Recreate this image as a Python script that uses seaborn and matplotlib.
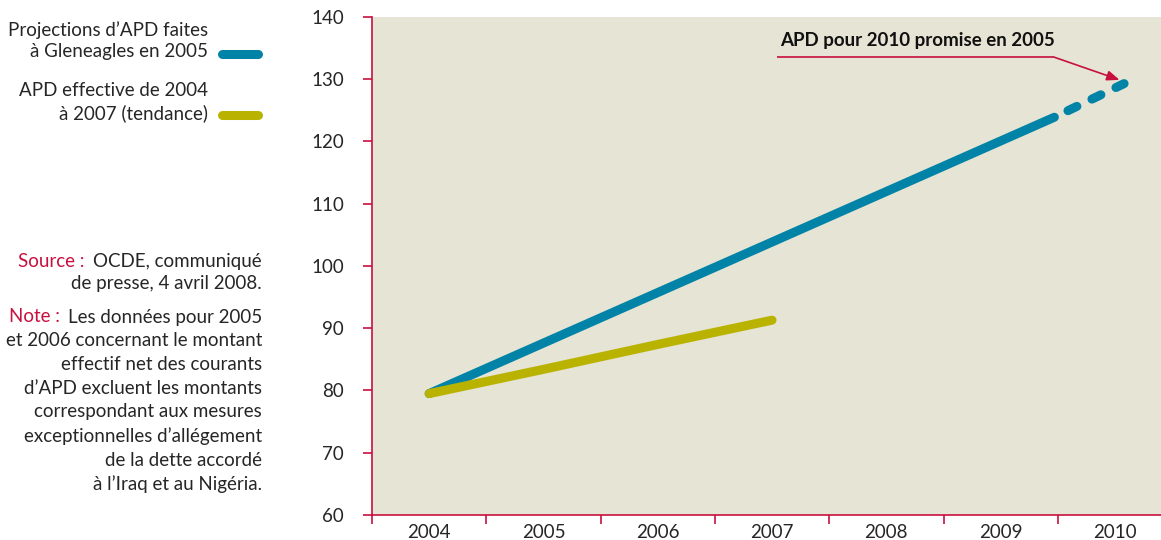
import matplotlib
matplotlib.use("Agg")
import matplotlib.pyplot as plt
import seaborn as sns
import pandas as pd
from matplotlib.lines import Line2D

# ---- data ----
years = ["2004", "2005", "2006", "2007", "2008", "2009", "2010"]
proj_pos = [0.0, 5.47]          # solid part of Gleneagles projection (position along year axis)
proj_val = [79.5, 123.9]
proj_dash_pos = [5.47, 6.08]    # dashed extrapolation up to the 2010 promise
proj_dash_val = [123.9, 129.3]
eff_pos = [0, 1, 2, 3]
eff_val = [79.5, 83.4, 87.4, 91.3]
yticks = [60, 70, 80, 90, 100, 110, 120, 130, 140]

BLUE = "#0083a7"
GREEN = "#b9b300"
RED = "#c8103e"
BG = "#e6e4d4"

sns.set_style("white")
plt.rcParams["font.family"] = ["Lato", "DejaVu Sans"]

fig = plt.figure(figsize=(11.61, 5.40), dpi=100)
ax = fig.add_axes([372 / 1161, 1 - 515 / 540, (1161 - 372) / 1161, (515 - 17) / 540])
ax.set_facecolor(BG)

lw = 6.5
sns.lineplot(data=pd.DataFrame({"x": proj_pos, "y": proj_val}), x="x", y="y", ax=ax,
             color=BLUE, lw=lw, solid_capstyle="round")
sns.lineplot(data=pd.DataFrame({"x": proj_dash_pos, "y": proj_dash_val}), x="x", y="y", ax=ax,
             color=BLUE, lw=lw, dash_capstyle="round", linestyle=(1.28, (1.1, 1.85)))
sns.lineplot(data=pd.DataFrame({"x": eff_pos, "y": eff_val}), x="x", y="y", ax=ax,
             color=GREEN, lw=lw, solid_capstyle="round")

ax.set_xlabel("")
ax.set_ylabel("")

for s in ["top", "right"]:
    ax.spines[s].set_visible(False)
for s in ["left", "bottom"]:
    ax.spines[s].set_color(RED)
    ax.spines[s].set_linewidth(1.2)

ax.set_yticks(yticks)
ax.set_yticklabels([str(v) for v in yticks])
ax.set_xticks(range(len(years)))
ax.set_xticklabels(years)
ax.set_xticks([i - 0.5 for i in range(len(years) + 1)], minor=True)
ax.set_xlim(-0.5, (1161 - 372) / 114.3 - 0.5)
ax.set_ylim(60, 140)

fs = 13.5
ax.tick_params(axis="y", which="major", direction="out", length=6.5, width=1.2, color=RED,
               labelsize=fs, pad=13.5, left=True)
ax.tick_params(axis="x", which="major", length=0, labelsize=fs, pad=6.5, bottom=True)
ax.tick_params(axis="x", which="minor", direction="out", length=6.5, width=1.2, color=RED, bottom=True)

# annotation
ax.text(3.07, 134.9, "APD pour 2010 promise en 2005", fontsize=fs, fontweight="bold",
        ha="left", va="bottom", color="#111111")
ax.plot([3.04, 5.46], [133.6, 133.6], color=RED, lw=1.2, solid_capstyle="butt")
ax.annotate("", xy=(6.04, 129.9), xytext=(5.46, 133.6),
            arrowprops=dict(arrowstyle="-|>,head_length=0.75,head_width=0.3", color=RED, lw=1.2,
                            shrinkA=0, shrinkB=0))

# legend (left)
def px(x, y):
    return x / 1161, 1 - y / 540

fig.text(*px(208, 30), "Projections d\u2019APD faites", ha="right", va="center", fontsize=fs)
fig.text(*px(208, 52), "\u00e0 Gleneagles en 2005", ha="right", va="center", fontsize=fs)
fig.text(*px(208, 91), "APD effective de 2004", ha="right", va="center", fontsize=fs)
fig.text(*px(208, 113), "\u00e0 2007 (tendance)", ha="right", va="center", fontsize=fs)
for yy, c in [(54, BLUE), (115, GREEN)]:
    x0, y0 = px(222, yy)
    x1, _ = px(258, yy)
    fig.add_artist(Line2D([x0, x1], [y0, y0], color=c, lw=lw, solid_capstyle="round",
                          transform=fig.transFigure))

# source & note
fig.text(*px(84, 261), "Source :", ha="right", va="center", fontsize=fs, color=RED)
fig.text(*px(262, 261), "OCDE, communiqu\u00e9", ha="right", va="center", fontsize=fs)
fig.text(*px(262, 284), "de presse, 4 avril 2008.", ha="right", va="center", fontsize=fs)
fig.text(*px(60, 317), "Note :", ha="right", va="center", fontsize=fs, color=RED)
note_lines = [
    "Les donn\u00e9es pour 2005",
    "et 2006 concernant le montant",
    "effectif net des courants",
    "d\u2019APD excluent les montants",
    "correspondant aux mesures",
    "exceptionnelles d\u2019all\u00e9gement",
    "de la dette accord\u00e9",
    "\u00e0 l\u2019Iraq et au Nig\u00e9ria.",
]
ys = [317, 340, 364, 388, 412, 436, 460, 484]
for t, yy in zip(note_lines, ys):
    fig.text(*px(262, yy), t, ha="right", va="center", fontsize=fs)

fig.savefig("out.png", dpi=100)
